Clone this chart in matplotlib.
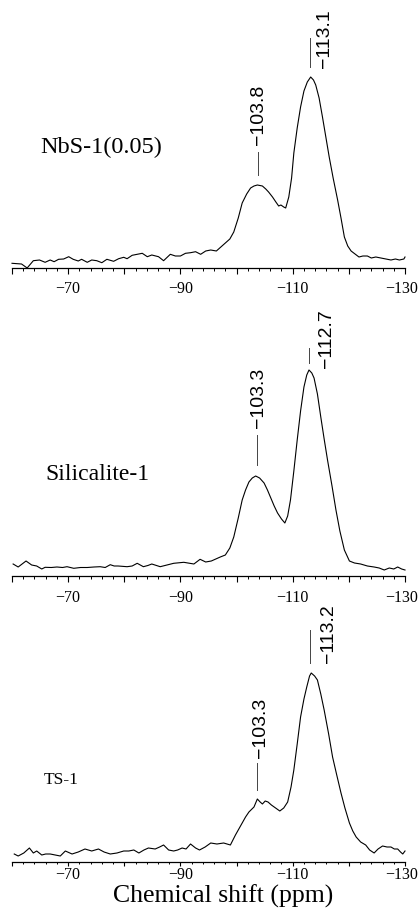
#!/usr/bin/env python3
"""
plot.py

29Si MAS NMR spectra of NbS-1(0.05), Silicalite-1 and TS-1,
stacked in three panels sharing the chemical shift scale.
Writes out.png (420x911 px).
"""

import matplotlib
matplotlib.use("Agg")
import matplotlib.pyplot as plt
from matplotlib.transforms import ScaledTranslation

MINUS = "\u2212"

# ---- data (ppm, intensity above the axis line) ----
nbs_ppm = [-60.0, -61.7, -62.7, -63.8, -64.9, -65.9, -66.8, -67.5, -68.3, -69.2,
           -70.1, -70.9, -71.8, -72.4, -73.4, -74.2, -75.1, -76.0, -76.9, -78.1,
           -79.0, -79.9, -80.5, -81.4, -82.3, -83.2, -84.1, -84.9, -86.1, -87.0,
           -88.2, -89.1, -90.0, -90.9, -91.8, -92.7, -93.6, -94.5, -95.4, -96.4,
           -97.2, -98.0, -98.8, -99.5, -100.3, -101.0, -101.8, -102.5, -103.1, -103.7,
           -104.6, -105.2, -105.7, -106.4, -107.0, -107.5, -107.9, -108.4, -108.75, -109.3,
           -109.8, -110.2, -110.8, -111.4, -112.0, -112.6, -113.2, -113.7, -114.1, -114.7,
           -115.3, -115.9, -116.5, -117.2, -118.0, -118.6, -119.2, -119.8, -120.4, -121.1,
           -121.8, -122.5, -123.3, -124.0, -124.8, -125.7, -126.6, -127.5, -128.3, -129.0,
           -129.8, -130.0]
nbs_int = [4.7, 4, 0, 7.3, 8, 5.7, 8, 6.3, 8.7, 9,
           11.3, 8.7, 7, 8.7, 5.7, 8, 7.3, 5.3, 8.7, 6.7,
           9.3, 10.7, 9.3, 12.7, 13.7, 14.7, 11.3, 13, 11.3, 7.3,
           13.7, 12, 12, 14.7, 15.3, 16.3, 13.7, 17, 18, 17,
           21, 25, 29, 36, 50, 65, 74, 80, 82, 83,
           82, 79, 76, 71, 66, 62, 63, 61, 60, 71,
           90, 115, 140, 161, 177, 186, 191, 188, 183, 170,
           151, 131, 111, 90, 68, 50, 31, 22, 17, 14,
           11, 12, 12, 10, 11, 10, 9, 8, 9, 8,
           9, 11]

sil_ppm = [-60.2, -61.1, -62.5, -63.5, -64.4, -65.3, -65.9, -67.0, -68.0, -69.0,
           -69.8, -71.0, -72.2, -73.4, -74.6, -75.7, -76.6, -77.5, -78.2, -78.9,
           -80.5, -81.4, -82.3, -83.4, -84.2, -84.9, -86.4, -87.6, -88.8, -90.6,
           -92.4, -93.5, -94.5, -95.5, -96.3, -97.1, -98.0, -98.8, -99.5, -100.3,
           -101.0, -101.6, -102.2, -102.8, -103.4, -104.1, -104.9, -105.5, -106.1, -106.7,
           -107.3, -108.0, -108.6, -109.1, -109.6, -110.2, -110.8, -111.4, -112.0, -112.5,
           -112.9, -113.4, -113.8, -114.4, -115.0, -115.6, -116.2, -117.0, -117.7, -118.4,
           -119.2, -120.1, -121.0, -122.1, -123.3, -124.5, -125.4, -126.3, -127.2, -128.0,
           -128.7, -129.4, -130.0]
sil_int = [12, 9, 15, 11, 10, 7, 8.7, 8.5, 9, 8.5,
           9.3, 7.7, 8.5, 8.5, 9, 9.3, 8.5, 11.3, 10, 10,
           9.3, 10, 12.7, 9.3, 10.5, 12, 9.3, 11, 12.7, 13.7,
           12, 16.7, 14, 15, 17, 19, 21, 28, 39, 58,
           76, 86, 94, 98, 100, 98, 93, 86, 78, 70,
           63, 57, 53, 60, 76, 105, 136, 165, 189, 201,
           206, 203, 198, 182, 159, 137, 116, 90, 66, 45,
           26, 15, 13, 12, 10, 9, 8, 6, 8, 7,
           9, 7, 6]

ts_ppm = [-60.4, -61.1, -62.1, -63.1, -63.8, -64.4, -65.3, -66.0, -66.8, -67.7,
          -68.6, -69.5, -70.7, -71.8, -73.0, -74.2, -75.4, -76.4, -77.5, -78.7,
          -79.9, -80.8, -81.7, -82.6, -83.5, -84.3, -85.5, -86.3, -87.0, -87.9,
          -88.8, -89.5, -90.3, -91.0, -91.8, -92.7, -93.4, -94.4, -95.4, -96.5,
          -97.7, -98.9, -99.8, -100.4, -101.0, -101.6, -102.2, -103.1, -103.7, -104.2,
          -104.6, -105.1, -105.6, -106.2, -106.7, -107.2, -107.7, -108.4, -109.1, -109.7,
          -110.2, -110.8, -111.4, -112.0, -112.5, -113.0, -113.3, -113.9, -114.4, -115.0,
          -115.6, -116.4, -117.1, -117.8, -118.6, -119.3, -120.1, -120.7, -121.3, -122.1,
          -123.0, -123.7, -124.5, -125.2, -126.0, -126.8, -127.5, -128.1, -128.7, -129.2,
          -129.6, -130.0]
ts_int = [8, 6, 9, 14, 9, 11, 7, 8, 8, 7,
          6, 11, 8, 10, 13, 11, 13, 10, 8, 9,
          11, 11, 12, 9, 12, 14, 13, 15, 17, 12,
          11, 12, 14, 13, 18, 14, 12, 15, 19, 18,
          19, 17, 27, 33, 39, 45, 50, 55, 63, 60,
          58, 61, 60, 57, 55, 53, 51, 54, 60, 75,
          92, 118, 145, 163, 175, 186, 189, 186, 182, 168,
          152, 128, 105, 88, 69, 54, 39, 31, 25, 20,
          17, 12, 9, 13, 16, 15, 15, 13, 13, 10,
          8, 11]

sample_names = ["NbS-1(0.05)", "Silicalite-1", "TS-1"]
peak_labels = [["103.8", "113.1"], ["103.3", "112.7"], ["103.3", "113.2"]]

major_ticks = [-60, -70, -80, -90, -100, -110, -120, -130]
tick_labels = ["", "70", "", "90", "", "110", "", "130"]
minor_ticks = list(range(-60, -131, -2))

# ---- layout (pixels of the 420x911 figure) ----
W, H = 420, 911
X0, X1 = 12, 405                  # left/right end of the ppm axis
AXIS_Y = [268, 576, 862]          # y of the axis line in each panel
AX_TOP = [0, 292, 598]            # top of each panel
TICK_LEN = [(4.2, 2.2), (4.2, 2.2), (2.8, 1.6)]   # major, minor (pt)
TICK_PAD = [5.5, 6.0, 0.5]
NAME_POS = [(-65.0, 121, 17.5), (-65.9, 101, 17), (-65.7, 82, 12.5)]
# per panel: (line x, line y0, line y1, text x, text y) for each peak marker
MARKS = [
    [(-103.75, 93, 116, -103.9, 153), (-113.0, 201, 230, -115.7, 229)],
    [(-103.6, 111, 141, -103.9, 178), (-112.9, 213, 228, -116.1, 237)],
    [(-103.6, 72, 99, -104.3, 134), (-113.0, 199, 232, -116.4, 228)],
]


def make_panel(fig, i, ppm, inten):
    bottom = 1 - AXIS_Y[i] / H
    height = (AXIS_Y[i] - AX_TOP[i]) / H
    ax = fig.add_axes([X0 / W, bottom, (X1 - X0) / W, height])
    ax.patch.set_alpha(0)
    ax.set_xlim(-60, -130)
    ax.set_ylim(0, AXIS_Y[i] - AX_TOP[i])

    ax.plot(ppm, inten, color="black", lw=0.8, clip_on=False)

    for s in ("top", "left", "right"):
        ax.spines[s].set_visible(False)
    ax.spines["bottom"].set_linewidth(0.9)
    ax.set_yticks([])
    ax.set_xticks(major_ticks)
    labels = ax.set_xticklabels([MINUS + t if t else "" for t in tick_labels],
                                family="Liberation Serif", fontsize=11.5)
    ax.set_xticks(minor_ticks, minor=True)
    ax.tick_params(axis="x", which="major", direction="out",
                   length=TICK_LEN[i][0], width=0.8, pad=TICK_PAD[i])
    ax.tick_params(axis="x", which="minor", direction="out",
                   length=TICK_LEN[i][1], width=0.7)
    # the last label sits a little inside the right edge, as in the scan
    last = labels[-1]
    last.set_transform(last.get_transform() +
                       ScaledTranslation(-3 / 100, 0, fig.dpi_scale_trans))

    nx, ny, nfs = NAME_POS[i]
    ax.text(nx, ny, sample_names[i], family="Liberation Serif", fontsize=nfs,
            ha="left", va="center")

    for lab, (lx, y0, y1, tx, ty) in zip(peak_labels[i], MARKS[i]):
        ax.plot([lx, lx], [y0, y1], color="#444444", lw=0.7, clip_on=False)
        ax.text(tx, ty, MINUS + lab, family="Liberation Sans", fontsize=14,
                rotation=90, ha="center", va="center", clip_on=False)
    return ax


def main():
    fig = plt.figure(figsize=(W / 100, H / 100), dpi=100)
    fig.patch.set_facecolor("white")

    make_panel(fig, 0, nbs_ppm, nbs_int)
    make_panel(fig, 1, sil_ppm, sil_int)
    make_panel(fig, 2, ts_ppm, ts_int)

    fig.text(223 / W, 1 - 896 / H, "Chemical shift (ppm)",
             family="Liberation Serif", fontsize=18.5, ha="center", va="center")

    fig.savefig("out.png", dpi=100)
    plt.close(fig)
    print("Saved plot to out.png")


if __name__ == "__main__":
    main()
